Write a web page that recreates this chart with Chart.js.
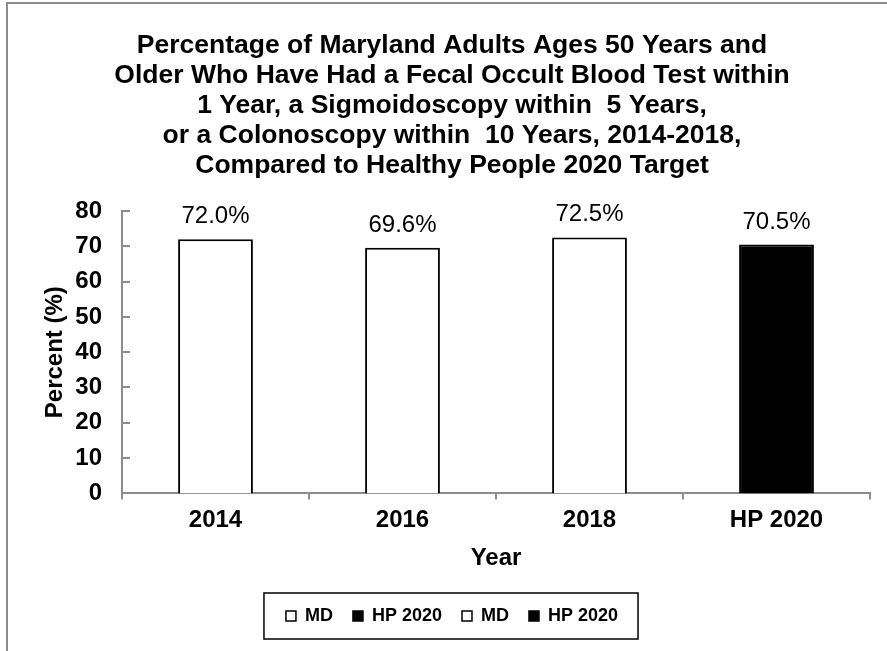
<!DOCTYPE html>
<html>
<head>
<meta charset="utf-8">
<title>Colorectal Cancer Screening, Maryland</title>
<script src="https://cdn.jsdelivr.net/npm/chart.js@4.4.1/dist/chart.umd.min.js"></script>
<style>
    html, body { margin: 0; padding: 0; background: #fff; overflow: hidden; }
    #frame {
        position: absolute; left: 6px; top: 2px; right: 0; bottom: 0;
        border-top: 2px solid #8c8c8c; border-left: 2px solid #8c8c8c;
    }
    #wrap { position: absolute; left: 0; top: 0; width: 887px; height: 651px; }
</style>
</head>
<body>
<div id="frame"></div>
<div id="wrap"><canvas id="screening-chart"></canvas></div>
<script>
// Survey years plus the HP 2020 target bar
const years = ['2014', '2016', '2018', 'HP 2020'];
const percentValues = [72.0, 69.6, 72.5, 70.5];
const legendNames = ['MD', 'HP 2020', 'MD', 'HP 2020'];
const yMin = 0;
const yMax = 80;
const yStep = 10;

const chartTitle = [
    'Percentage of Maryland Adults Ages 50 Years and',
    'Older Who Have Had a Fecal Occult Blood Test within',
    '1 Year, a Sigmoidoscopy within  5 Years,',
    'or a Colonoscopy within  10 Years, 2014-2018,',
    'Compared to Healthy People 2020 Target'
];

const FONT = "'Liberation Sans', Arial, sans-serif";
const AXIS_GRAY = '#8c8c8c';

const fillFor = name => name === 'HP 2020' ? '#000000' : '#ffffff';

// value labels sitting above each bar
const barValueLabels = {
    id: 'barValueLabels',
    afterDatasetsDraw(chart) {
        const ctx = chart.ctx;
        const meta = chart.getDatasetMeta(0);
        ctx.save();
        ctx.font = `24px ${FONT}`;
        ctx.fillStyle = '#000';
        ctx.textAlign = 'center';
        ctx.textBaseline = 'alphabetic';
        meta.data.forEach((bar, i) => {
            ctx.fillText(percentValues[i].toFixed(1) + '%', bar.x, bar.y - 16);
        });
        ctx.restore();
    }
};

// short tick marks pointing into the plot on the y axis
const innerYTicks = {
    id: 'innerYTicks',
    afterDraw(chart) {
        const ctx = chart.ctx;
        const y = chart.scales.y;
        const left = chart.chartArea.left;
        ctx.save();
        ctx.strokeStyle = AXIS_GRAY;
        ctx.lineWidth = 2;
        y.ticks.forEach(t => {
            const py = Math.round(y.getPixelForValue(t.value));
            ctx.beginPath();
            ctx.moveTo(left, py);
            ctx.lineTo(left + 8, py);
            ctx.stroke();
        });
        ctx.restore();
    }
};

// black frame around the legend
const legendFrame = {
    id: 'legendFrame',
    afterDraw(chart) {
        const boxes = chart.legend.legendHitBoxes;
        if (!boxes || !boxes.length) return;
        const left = Math.min(...boxes.map(b => b.left)) - 22;
        const right = Math.max(...boxes.map(b => b.left + b.width)) + 20;
        const top = Math.min(...boxes.map(b => b.top)) - 14;
        const bottom = Math.max(...boxes.map(b => b.top + b.height)) + 14;
        const ctx = chart.ctx;
        ctx.save();
        ctx.strokeStyle = '#000';
        ctx.lineWidth = 1.5;
        ctx.strokeRect(left, top, right - left, bottom - top);
        ctx.restore();
    }
};

const ctx = document.getElementById('screening-chart').getContext('2d');
new Chart(ctx, {
    type: 'bar',
    data: {
        labels: years,
        datasets: [{
            label: 'Percent',
            data: percentValues,
            backgroundColor: years.map(fillFor),
            borderColor: '#000',
            borderWidth: 2,
            borderSkipped: 'bottom',
            categoryPercentage: 1.0,
            barPercentage: 0.4
        }]
    },
    options: {
        responsive: true,
        maintainAspectRatio: false,
        animation: false,
        layout: {
            padding: { left: 34, right: 17, top: 31, bottom: 16 }
        },
        plugins: {
            title: {
                display: true,
                text: chartTitle,
                color: '#000',
                font: { family: FONT, size: 26.5, weight: 'bold', lineHeight: 1.132 },
                padding: { top: 0, bottom: 30 }
            },
            legend: {
                position: 'bottom',
                labels: {
                    color: '#000',
                    font: { family: FONT, size: 18, weight: 'bold' },
                    boxWidth: 10,
                    boxHeight: 10,
                    padding: 20,
                    generateLabels: () => legendNames.map(name => ({
                        text: name,
                        fillStyle: fillFor(name),
                        strokeStyle: '#000',
                        lineWidth: 1.5,
                        hidden: false
                    }))
                },
                onClick: () => {}
            },
            tooltip: { enabled: false }
        },
        scales: {
            x: {
                grid: {
                    display: true,
                    drawOnChartArea: false,
                    drawTicks: true,
                    tickLength: 6,
                    color: AXIS_GRAY,
                    lineWidth: 2
                },
                border: { display: true, color: AXIS_GRAY, width: 2 },
                ticks: {
                    color: '#000',
                    font: { family: FONT, size: 24, weight: 'bold' },
                    padding: 7
                },
                title: {
                    display: true,
                    text: 'Year',
                    color: '#000',
                    font: { family: FONT, size: 24, weight: 'bold' },
                    padding: { top: 2, bottom: 14 }
                }
            },
            y: {
                min: yMin,
                max: yMax,
                grid: { display: false, drawTicks: false },
                border: { display: true, color: AXIS_GRAY, width: 2 },
                ticks: {
                    stepSize: yStep,
                    color: '#000',
                    font: { family: FONT, size: 24, weight: 'bold' },
                    padding: 20
                },
                title: {
                    display: true,
                    text: 'Percent (%)',
                    color: '#000',
                    font: { family: FONT, size: 24, weight: 'bold' },
                    padding: { top: 7, bottom: 0 }
                },
                afterFit(scale) {
                    scale.width = 88;
                }
            }
        }
    },
    plugins: [barValueLabels, innerYTicks, legendFrame]
});
</script>
</body>
</html>
